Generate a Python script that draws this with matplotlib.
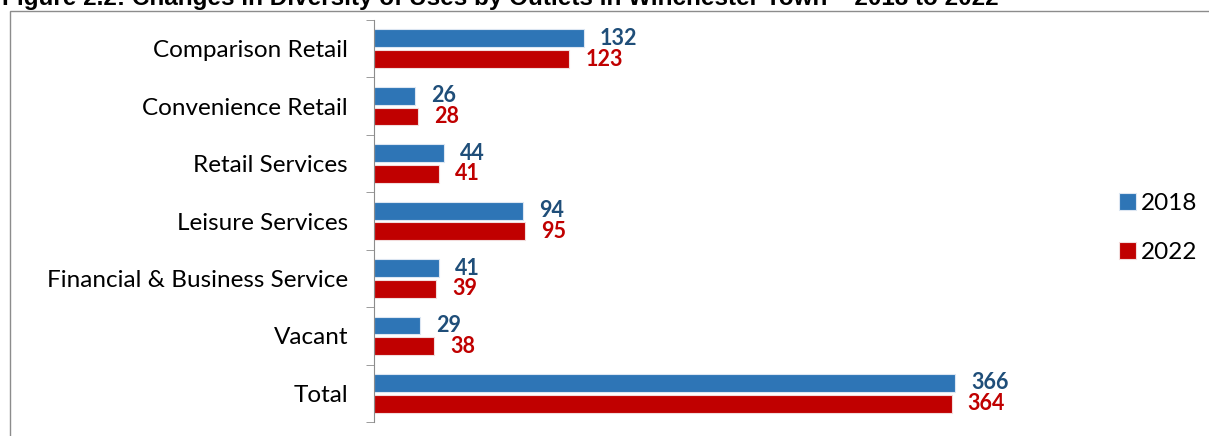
import numpy as np
import matplotlib
matplotlib.use('Agg')
import matplotlib.pyplot as plt
from matplotlib.patches import Rectangle

categories = ["Comparison Retail", "Convenience Retail", "Retail Services",
              "Leisure Services", "Financial & Business Service", "Vacant", "Total"]
outlets_2018 = [132, 26, 44, 94, 41, 29, 366]
outlets_2022 = [123, 28, 41, 95, 39, 38, 364]

blue = '#2E75B6'
red = '#C00000'
blue_txt = '#1F4E79'

plt.rcParams['font.family'] = ['Lato', 'DejaVu Sans']

fig = plt.figure(figsize=(12.09, 4.36), dpi=100)

# outer frame of the figure box
fig.patches.append(Rectangle((10 / 1209, -0.1), 1.2, (436 - 11) / 436 + 0.1,
                             transform=fig.transFigure, fill=False,
                             edgecolor='#8c8c8c', linewidth=1.0))

fig.text(2 / 1209, (436 - 5) / 436,
         "Figure 2.2: Changes in Diversity of Uses by Outlets in Winchester Town \u2013 2018 to 2022",
         family='Liberation Sans', weight='bold', fontsize=17.5, va='baseline', ha='left')

ax = fig.add_axes([374 / 1209, 14 / 436, 726 / 1209, 402 / 436])

y = np.arange(len(categories))
h = 0.31
off = 0.18
ax.barh(y - off, outlets_2018, height=h, color=blue, edgecolor='#dce6f2',
        linewidth=0.8, label='2018')
ax.barh(y + off, outlets_2022, height=h, color=red, edgecolor='#f2dcdc',
        linewidth=0.8, label='2022')

for yi, v in zip(y, outlets_2018):
    ax.annotate(str(v), (v, yi - off), xytext=(11.5, 0), textcoords='offset points',
                va='center', ha='left', fontsize=15.5, weight='bold', color=blue_txt)
for yi, v in zip(y, outlets_2022):
    ax.annotate(str(v), (v, yi + off), xytext=(11.5, 0), textcoords='offset points',
                va='center', ha='left', fontsize=15.5, weight='bold', color=red)

ax.set_xlim(0, 726 / (581 / 366))
ax.set_ylim(len(categories) - 0.5, -0.5)
ax.set_yticks(y)
ax.set_yticklabels(categories, fontsize=17.5)
ax.set_yticks(np.arange(len(categories) + 1) - 0.5, minor=True)
ax.tick_params(axis='y', which='major', length=0, pad=18.7)
ax.tick_params(axis='y', which='minor', length=6, color='#8c8c8c')
ax.set_xticks([])
for s in ['top', 'right', 'bottom']:
    ax.spines[s].set_visible(False)
ax.spines['left'].set_color('#8c8c8c')

ax.legend(loc='upper left', bbox_to_anchor=(1097 / 1209, (436 - 171) / 436),
          bbox_transform=fig.transFigure, frameon=False, fontsize=17.5,
          handlelength=0.7, handleheight=0.7, handletextpad=0.2, labelspacing=1.15)

fig.savefig('out.png', dpi=100)
